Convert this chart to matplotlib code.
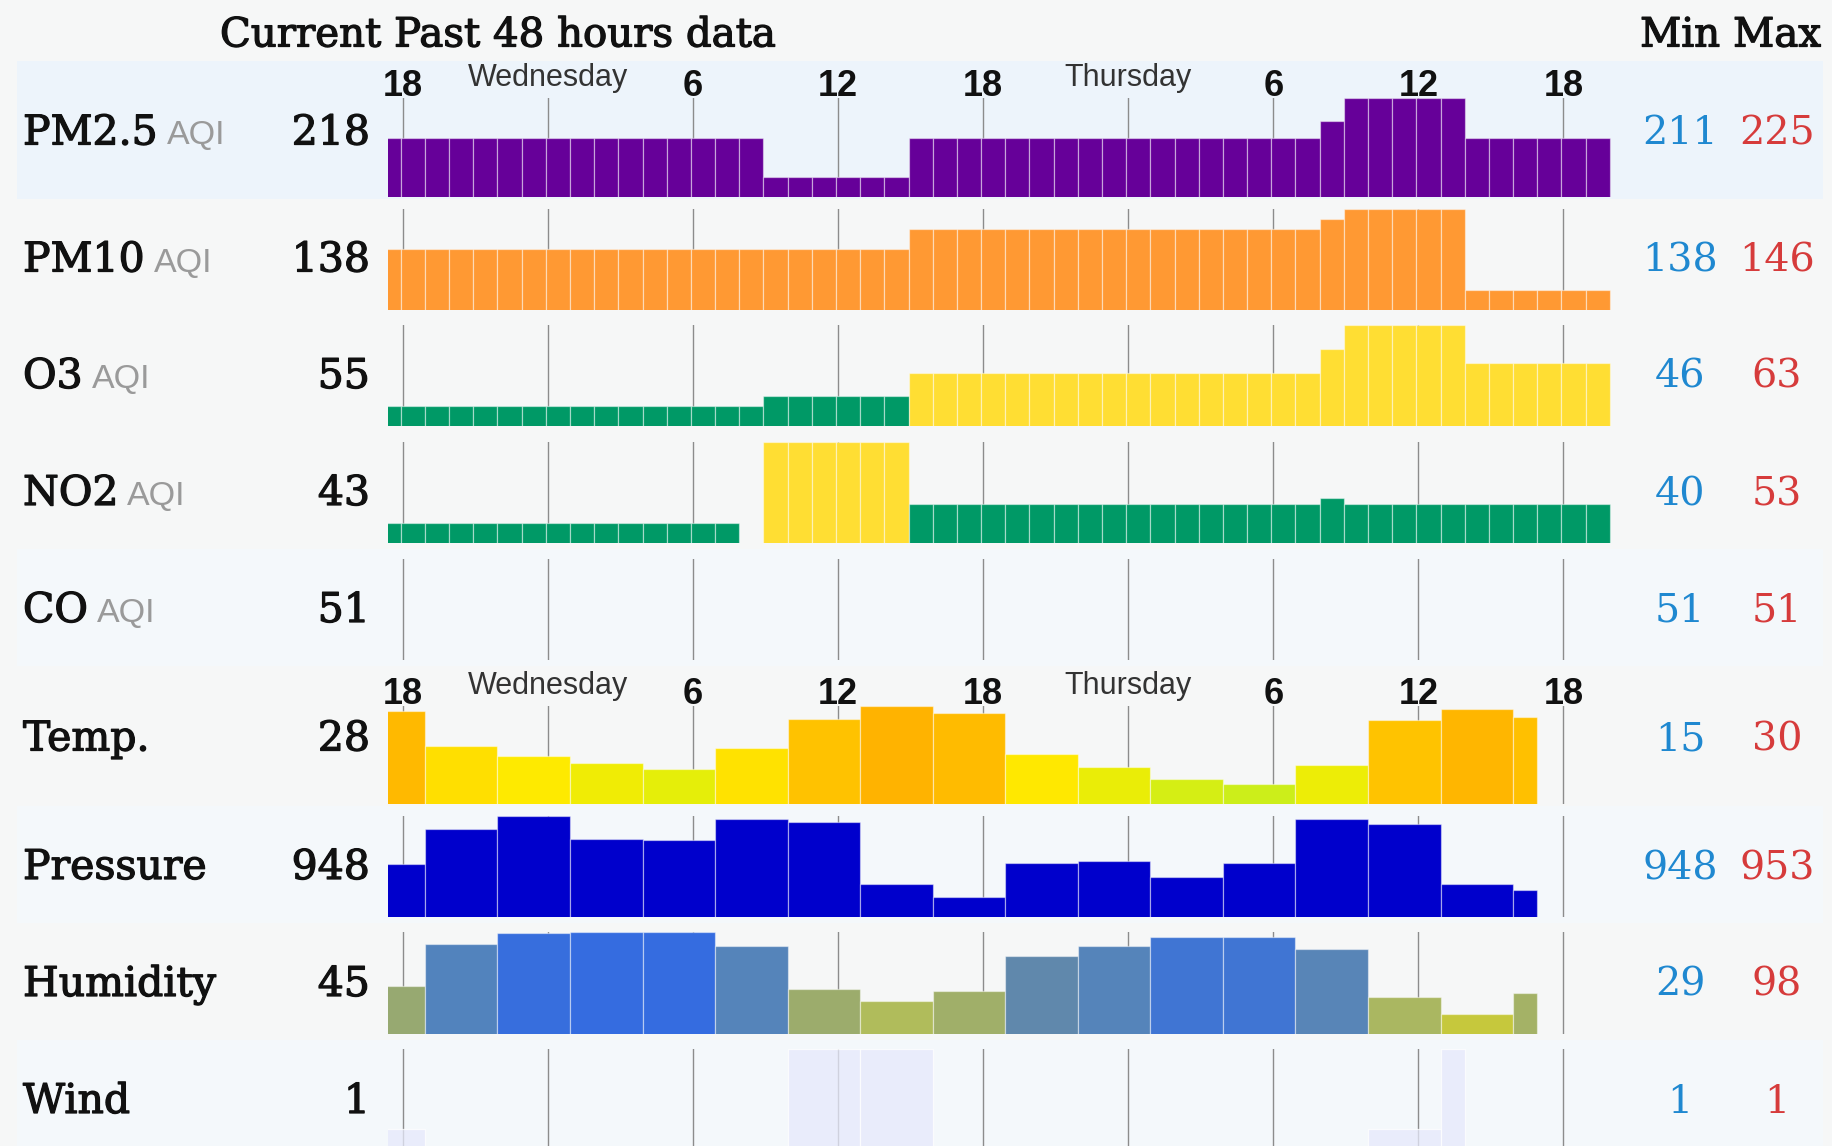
import numpy as np
import matplotlib
matplotlib.use("Agg")
import matplotlib.pyplot as plt
from matplotlib import font_manager
import matplotlib.patheffects as pe
from matplotlib.patches import Rectangle
from matplotlib.colors import LinearSegmentedColormap, Normalize

#______________________ data ______________________________
# hours counted from Tuesday 18:00; one AQI bar per hour (-1 .. 49)
aqi_hours = list(range(-1, 50))

pm25 = [218, 218, 218, 218, 218, 218, 218, 218, 218, 218, 218, 218, 218, 218, 218, 218,
        211, 211, 211, 211, 211, 211,
        218, 218, 218, 218, 218, 218, 218, 218, 218, 218, 218, 218, 218, 218, 218, 218, 218,
        221, 225, 225, 225, 225, 225,
        218, 218, 218, 218, 218, 218]
pm10 = [142, 142, 142, 142, 142, 142, 142, 142, 142, 142, 142, 142, 142, 142, 142, 142,
        142, 142, 142, 142, 142, 142,
        144, 144, 144, 144, 144, 144, 144, 144, 144, 144, 144, 144, 144, 144, 144, 144, 144,
        145, 146, 146, 146, 146, 146,
        138, 138, 138, 138, 138, 138]
o3 = [46, 46, 46, 46, 46, 46, 46, 46, 46, 46, 46, 46, 46, 46, 46, 46,
      48, 48, 48, 48, 48, 48,
      53, 53, 53, 53, 53, 53, 53, 53, 53, 53, 53, 53, 53, 53, 53, 53, 53,
      58, 63, 63, 63, 63, 63,
      55, 55, 55, 55, 55, 55]
no2 = [40, 40, 40, 40, 40, 40, 40, 40, 40, 40, 40, 40, 40, 40, 40, None,
       53, 53, 53, 53, 53, 53,
       43, 43, 43, 43, 43, 43, 43, 43, 43, 43, 43, 43, 43, 43, 43, 43, 43,
       44, 43, 43, 43, 43, 43,
       43, 43, 43, 43, 43, 43]

# weather data comes in 3 hour steps, last one ends at hour 47
wx_start = [-2, 1, 4, 7, 10, 13, 16, 19, 22, 25, 28, 31, 34, 37, 40, 43, 46]
wx_end = 47
temp = [29.0, 22.4, 20.5, 19.0, 17.9, 21.9, 27.5, 30.0, 28.6, 20.9, 18.4, 16.1, 15.0, 18.7, 27.3, 29.4, 27.8]
pressure = [950.0, 952.2, 953.0, 951.6, 951.5, 952.8, 952.6, 948.8, 948.0, 950.1, 950.2, 949.2,
            950.1, 952.8, 952.5, 948.8, 948.4]
humidity = [52, 88, 97, 98, 98, 86, 50, 40, 48, 78, 86, 94, 94, 84, 43, 29, 46]

wind_start = [-2, 16, 19, 40, 43]
wind_end = [1, 19, 22, 43, 44]
wind_level = [0.22, 1.0, 1.0, 0.22, 1.0]

names = ["PM2.5", "PM10", "O3", "NO2", "CO", "Temp.", "Pressure", "Humidity", "Wind"]
is_aqi = [True, True, True, True, True, False, False, False, False]
current = [218, 138, 55, 43, 51, 28, 948, 45, 1]
mins = [211, 138, 46, 40, 51, 15, 948, 29, 1]
maxs = [225, 146, 63, 53, 51, 30, 953, 98, 1]

hour_ticks = [0, 6, 12, 18, 24, 30, 36, 42, 48]
tick_text = ["18", "Wednesday", "6", "12", "18", "Thursday", "6", "12", "18"]

#______________________ layout ____________________________
W, H = 1832, 1146
band_edges = [61, 199, 315, 432, 549, 666, 806, 923, 1040, 1157]
band_colors = ['#edf4fb', None, None, None, '#f4f8fb', None, '#f4f8fb', None, '#f4f8fb']
ax_top = [98, 209, 325, 442, 559, 706, 816, 932, 1049]
ax_bot = [197, 310, 426, 543, 660, 804, 917, 1034, 1151]
x_left, x_right = 388.1, 1611.8
xlim = (-0.6, 50)
shift = -0.08   # bars sit a hair left of the hour grid in the original

fnames = {f.name for f in font_manager.fontManager.ttflist}
narrow = 'Liberation Sans Narrow' if 'Liberation Sans Narrow' in fnames else 'Liberation Sans'
aqi_size = 28 if narrow == 'Liberation Sans Narrow' else 24.5
serif = 'DejaVu Serif'
heavy = [pe.withStroke(linewidth=0.9, foreground='#111111')]


def aqi_color(v):
    if v <= 50:
        return '#009966'
    if v <= 100:
        return '#ffde33'
    if v <= 150:
        return '#ff9933'
    if v <= 200:
        return '#cc0033'
    if v <= 300:
        return '#660099'
    return '#7e0023'


temp_cmap = LinearSegmentedColormap.from_list(
    'temp', [(0.0, '#ccee1a'), (0.2, '#e6ee08'), (0.37, '#ffea00'), (0.53, '#ffdc00'),
             (0.83, '#ffc200'), (1.0, '#ffb300')])
hum_cmap = LinearSegmentedColormap.from_list(
    'hum', [(0.0, '#c6c83c'), (0.16, '#b0bc5c'), (0.3, '#9cac6c'), (0.71, '#6088ac'),
            (0.86, '#5283be'), (1.0, '#356ce0')])

edge = (1, 1, 1, 0.45)

#______________________ plot ______________________________
fig = plt.figure(figsize=(W / 100, H / 100), dpi=100)
fig.patch.set_facecolor('#f6f7f7')
bg = fig.add_axes([0, 0, 1, 1], zorder=0)
bg.set_xlim(0, W)
bg.set_ylim(H, 0)
bg.axis('off')

for i, c in enumerate(band_colors):
    if c:
        bg.add_patch(Rectangle((17, band_edges[i]), 1806, band_edges[i + 1] - band_edges[i],
                               color=c, lw=0))

bg.text(220, 46.5, "Current Past 48 hours data", family=serif, fontsize=29,
        color='#111111', ha='left', va='baseline', path_effects=heavy)
bg.text(1680, 46.5, "Min", family=serif, fontsize=29, color='#111111', ha='center',
        va='baseline', path_effects=heavy)
bg.text(1777, 46.5, "Max", family=serif, fontsize=29, color='#111111', ha='center',
        va='baseline', path_effects=heavy)

renderer = fig.canvas.get_renderer()
for i, name in enumerate(names):
    yb = (band_edges[i] + band_edges[i + 1]) / 2 + 14.5
    t = bg.text(23, yb, name, family=serif, fontsize=29.5, color='#111111', va='baseline',
                path_effects=heavy)
    if is_aqi[i]:
        bb = t.get_window_extent(renderer)
        bg.text(bb.x1 + 9, yb, "AQI", family=narrow, fontsize=aqi_size, color='#9a9a9a',
                va='baseline')
    bg.text(370, yb, str(current[i]), family=serif, fontsize=29.5, color='#111111',
            ha='right', va='baseline', path_effects=heavy)
    bg.text(1680, yb, str(mins[i]), family=serif, fontsize=28.5, color='#1f88d0',
            ha='center', va='baseline')
    bg.text(1777, yb, str(maxs[i]), family=serif, fontsize=28.5, color='#d63b3b',
            ha='center', va='baseline')

axes = []
for i in range(len(names)):
    ax = fig.add_axes([x_left / W, 1 - ax_bot[i] / H, (x_right - x_left) / W,
                       (ax_bot[i] - ax_top[i]) / H], zorder=1)
    ax.patch.set_alpha(0)
    ax.set_xlim(*xlim)
    ax.set_xticks(hour_ticks)
    ax.set_yticks([])
    ax.grid(axis='x', color='#8c8c8c', lw=1.0)
    ax.set_axisbelow(True)
    ax.tick_params(length=0, labelbottom=False)
    for s in ax.spines.values():
        s.set_visible(False)
    axes.append(ax)

# AQI rows
for ax, series, mn, mx in zip(axes[:4], [pm25, pm10, o3, no2], mins[:4], maxs[:4]):
    hh = [h + shift for h, v in zip(aqi_hours, series) if v is not None]
    vv = [v for v in series if v is not None]
    ax.bar(hh, vv, width=1, align='edge', color=[aqi_color(v) for v in vv],
           edgecolor=edge, lw=0.9)
    ax.set_ylim(mn - 0.25 * (mx - mn), mx)
axes[4].set_ylim(0, 1)  # CO: no bars

# weather rows
wx_x = np.array(wx_start) + shift
widths = np.diff(wx_start + [wx_end])
tn = Normalize(15, 30)
axes[5].bar(wx_x, temp, width=widths, align='edge', color=temp_cmap(tn(np.array(temp))),
            edgecolor=edge, lw=0.9)
axes[5].set_ylim(15 - 0.25 * 15, 30)

axes[6].bar(wx_x, pressure, width=widths, align='edge', color='#0000cc',
            edgecolor=edge, lw=0.9)
axes[6].set_ylim(948 - 0.25 * 5, 953)

hn = Normalize(29, 98)
axes[7].bar(wx_x, humidity, width=widths, align='edge', color=hum_cmap(hn(np.array(humidity))),
            edgecolor=edge, lw=0.9)
axes[7].set_ylim(29 - 0.25 * 69, 98)

wind_w = np.array(wind_end) - np.array(wind_start)
axes[8].bar(np.array(wind_start) + shift, wind_level, width=wind_w, align='edge',
            color='#e6e9fb', alpha=0.75, edgecolor=edge, lw=0.9)
axes[8].set_ylim(0, 1)

# time labels above PM2.5 and Temp rows
for ax in (axes[0], axes[5]):
    for h, lbl in zip(hour_ticks, tick_text):
        if lbl.isdigit():
            ax.annotate(lbl, (h, 1), xycoords=ax.get_xaxis_transform(), xytext=(0, 2),
                        textcoords='offset pixels', ha='center', va='baseline',
                        family=narrow, fontweight='bold', fontsize=26, color='#111111',
                        annotation_clip=False)
        else:
            ax.annotate(lbl, (h, 1), xycoords=ax.get_xaxis_transform(), xytext=(0, 12),
                        textcoords='offset pixels', ha='center', va='baseline',
                        family='Liberation Sans', fontsize=22, color='#333333',
                        annotation_clip=False)

plt.savefig("out.png", dpi=100, facecolor=fig.get_facecolor())
